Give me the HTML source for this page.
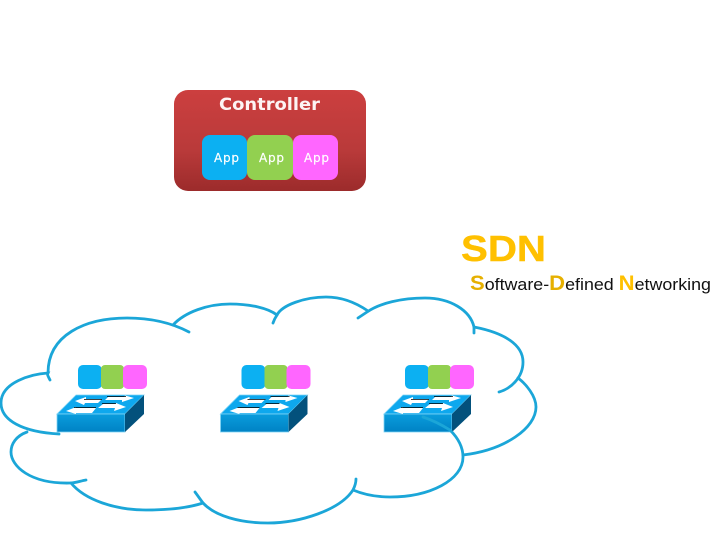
<!DOCTYPE html>
<html>
<head>
<meta charset="utf-8">
<style>
html,body{margin:0;padding:0;background:#fff;width:720px;height:540px;overflow:hidden}
svg{display:block}
</style>
</head>
<body>
<svg xmlns="http://www.w3.org/2000/svg" width="720" height="540" viewBox="0 0 720 540">
<defs>
<linearGradient id="red" x1="0" y1="0" x2="0" y2="1">
<stop offset="0" stop-color="#cc3f3f"/><stop offset="0.6" stop-color="#b93a3a"/><stop offset="1" stop-color="#9c2b2b"/>
</linearGradient>
<linearGradient id="front" x1="0" y1="0" x2="0" y2="1">
<stop offset="0" stop-color="#0a9ddd"/><stop offset="1" stop-color="#0082c4"/>
</linearGradient>
<g id="sw">
<rect x="78" y="365" width="24" height="24" rx="5" fill="#0cb0f2"/>
<rect x="101" y="365" width="23" height="24" rx="4" fill="#92d050"/>
<rect x="123" y="365" width="24" height="24" rx="5" fill="#ff66ff"/>
<polygon points="76,395 144,395 125,414 57,414" fill="#0ea8ee" stroke="#7fd4f5" stroke-width="0.8"/>
<rect x="57" y="414" width="68" height="18" fill="url(#front)" stroke="#7fd4f5" stroke-width="0.8"/>
<polygon points="125,414 144,395 144,414 125,432" fill="#03517c"/>
<polygon points="75,401 86,397 86,399 102,399 98,403 85,403 84,405" fill="#fff"/>
<path d="M84,399.500H102" stroke="#000" stroke-width="0.8"/>
<polygon points="134,398 125,395.500 124,397 108,397 105,400 122,400 122,402" fill="#fff"/>
<path d="M107,396.500H126" stroke="#000" stroke-width="0.8"/>
<polygon points="66,411 76,407 76,408 96,408 92,413 76,413 76,414" fill="#fff"/>
<polygon points="126,407 116,403 115,404 103,404 98,408 115,408 114,411" fill="#fff"/>
<path d="M74,407.500H96M102,403.500H116" stroke="#000" stroke-width="0.8"/>
</g>
</defs>

<rect x="174" y="90" width="192" height="101" rx="14" fill="url(#red)"/>
<text x="269.500" y="110" text-anchor="middle" font-family="'DejaVu Sans',sans-serif" font-weight="bold" font-size="17" fill="#fdf4f4" textLength="101" lengthAdjust="spacingAndGlyphs">Controller</text>
<rect x="202" y="135" width="45" height="45" rx="8" fill="#0cb0f2"/>
<rect x="247" y="135" width="46" height="45" rx="8" fill="#92d050"/>
<rect x="293" y="135" width="45" height="45" rx="8" fill="#ff66ff"/>
<g font-family="'DejaVu Sans',sans-serif" font-size="12" fill="#fff" stroke="#fff" stroke-width="0.2" text-anchor="middle">
<text x="226.500" y="162" textLength="25" lengthAdjust="spacing">App</text>
<text x="271.500" y="162" textLength="25" lengthAdjust="spacing">App</text>
<text x="316.500" y="162" textLength="25" lengthAdjust="spacing">App</text>
</g>

<text x="461" y="261" font-family="'Liberation Sans',sans-serif" font-weight="bold" font-size="36" fill="#ffc000" stroke="#ffc000" stroke-width="0.4" textLength="85" lengthAdjust="spacingAndGlyphs">SDN</text>
<text x="470" y="290" font-family="'Liberation Sans',sans-serif" font-size="17" fill="#111" textLength="241" lengthAdjust="spacingAndGlyphs"><tspan font-size="21" font-weight="bold" fill="#e6b000">S</tspan>oftware-<tspan font-size="21" font-weight="bold" fill="#e6b000">D</tspan>efined <tspan font-size="21" font-weight="bold" fill="#ffc000">N</tspan>etworking</text>

<use href="#sw"/>
<use href="#sw" x="163.500"/>
<use href="#sw" x="327"/>

<g fill="none" stroke="#1ba6d8" stroke-width="2.800" stroke-linecap="round">
<path d="M50,380 C48,376 47,375 48,373 C32,374 1,382 1,403 C1,420 22,432 59,434"/>
<path d="M27,432 C16,436 11,444 11,452 C11,466 30,484 70,483 C76,483 80,481 86,480"/>
<path d="M71,483 C85,500 115,510 146,510 C168,510 188,508 203,503 C200,499 198,496 195,492"/>
<path d="M203,503 C215,516 240,523 268,523 C300,523 340,510 353,490 C355,486 356,482 356,479"/>
<path d="M353,490 C365,495 378,497 390,497 C430,497 463,480 463,457 C463,445 456,436 450,430 C442,425 432,420 423,417"/>
<path d="M463,455 C505,450 536,428 536,407 C536,396 526,384 518,378"/>
<path d="M499,392 C510,389 523,378 523,362 C523,345 505,333 474,327 C474,329 474,331 474,333"/>
<path d="M474,327 C470,310 450,298 425,298 C402,298 380,303 367,312 C364,314 361,316 358,318"/>
<path d="M368,311 C355,302 340,297 326,297 C305,297 282,305 277,315 C275,318 274,320 273,323"/>
<path d="M173,325 C185,312 208,304 230,304 C250,304 268,308 277,315"/>
<path d="M189,332 C170,322 150,318 127,318 C85,318 48,335 48,373"/>
</g>
</svg>
</body>
</html>
